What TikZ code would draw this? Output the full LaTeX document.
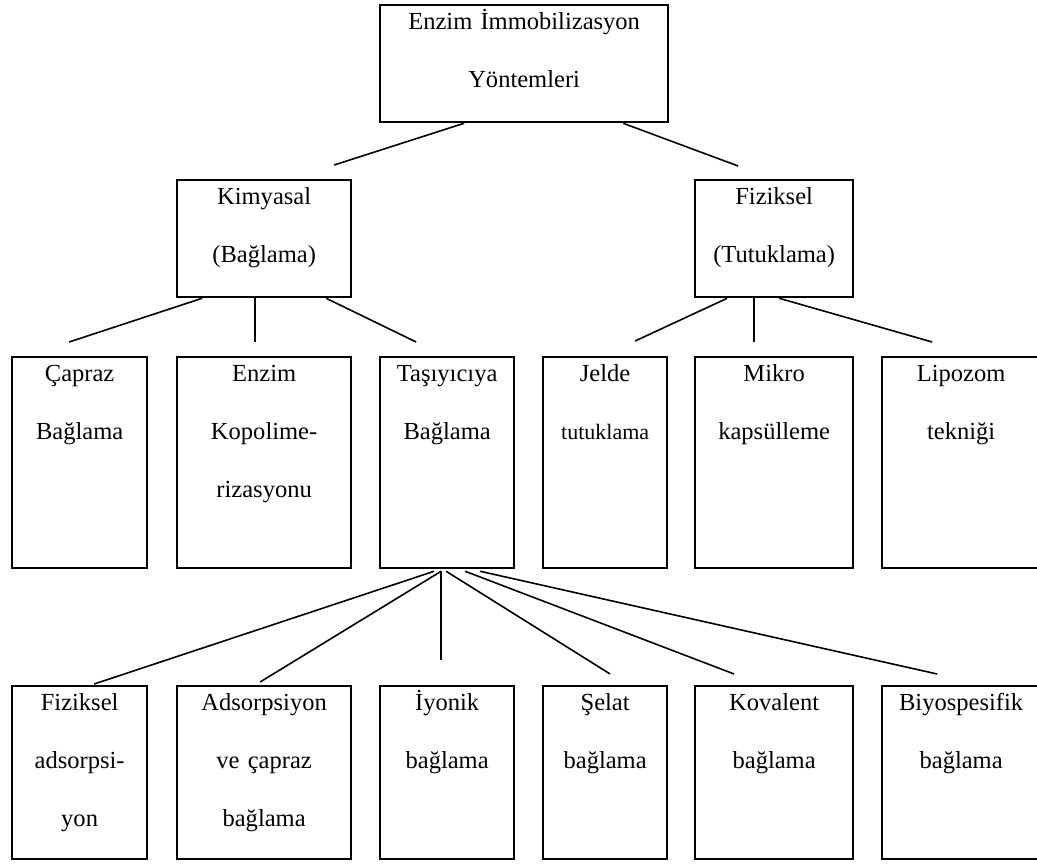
\documentclass[tikz,border=0pt]{standalone}
\usepackage{fontspec}
\setmainfont{Liberation Serif}
\usepackage{tikz}
\usetikzlibrary{calc}
\tikzstyle{boxes} = [rectangle, draw=black, line width=1.7pt, anchor=north west, align=center,
inner sep=0pt, text height=18pt, font=\fontsize{18.4pt}{43.5pt}\selectfont]
\tikzstyle{hboxes} = [boxes, text depth=69.75pt]
\tikzstyle{tboxes} = [boxes, text depth=140.25pt]
\tikzstyle{lboxes} = [boxes, text depth=111.75pt]
\tikzstyle{line} = [line width=1.2pt, -]

\begin{document}
\begin{tikzpicture}[x=0.75pt, y=-0.75pt]
        \useasboundingbox (0,0) rectangle (1037,863);

        \node[hboxes, text width=216pt] (top) at (379,4) {Enzim İmmobilizasyon\\Yöntemleri};
        \node[hboxes, text width=130.5pt] (kim) at (176,179) {Kimyasal\\(Bağlama)};
        \node[hboxes, text width=118.5pt] (fiz) at (694,179) {Fiziksel\\(Tutuklama)};

        \node[tboxes, text width=101.25pt] (capraz) at (11,356) {Çapraz\\Bağlama};
        \node[tboxes, text width=130.5pt] (kopol) at (176,356) {Enzim\\Kopolime-\\rizasyonu};
        \node[tboxes, text width=100.5pt] (tasi) at (379,356) {Taşıyıcıya\\Bağlama};
        \node[tboxes, text width=93pt] (jelde) at (542,356) {Jelde\\{\fontsize{16.5pt}{43.5pt}\selectfont tutuklama}};
        \node[tboxes, text width=118.5pt] (mikro) at (694,356) {Mikro\\kapsülleme};
        \node[tboxes, text width=118.5pt] (lipo) at (881,356) {Lipozom\\tekniği};

        \node[lboxes, text width=101.25pt] (fizads) at (11,685) {Fiziksel\\adsorpsi-\\yon};
        \node[lboxes, text width=130.5pt] (adsve) at (176,685) {Adsorpsiyon\\ve çapraz\\bağlama};
        \node[lboxes, text width=100.5pt] (iyon) at (379,685) {İyonik\\bağlama};
        \node[lboxes, text width=93pt] (selat) at (542,685) {Şelat\\bağlama};
        \node[lboxes, text width=118.5pt] (kova) at (694,685) {Kovalent\\bağlama};
        \node[lboxes, text width=118.5pt] (biyo) at (881,685) {Biyospesifik\\bağlama};

        \draw[line] ($(top.south)+(-60,0)$) -- ($(kim.north)+(70,-14)$);
        \draw[line] ($(top.south)+(99,0)$) -- ($(fiz.north)+(-36,-13)$);

        \draw[line] ($(kim.south)+(-62,0)$) -- ($(capraz.north)+(-10.5,-14)$);
        \draw[line] ($(kim.south)+(-9,0)$) -- ($(kopol.north)+(-9,-14)$);
        \draw[line] ($(kim.south)+(62,0)$) -- ($(tasi.north)+(-31,-14)$);

        \draw[line] ($(fiz.south)+(-47,0)$) -- ($(jelde.north)+(30,-15)$);
        \draw[line] ($(fiz.south)+(-20,0)$) -- ($(mikro.north)+(-20,-14)$);
        \draw[line] ($(fiz.south)+(5,0)$) -- ($(lipo.north)+(-29,-14)$);

        \draw[line] ($(tasi.south)+(-13,2)$) -- ($(fizads.north)+(14.5,-1)$);
        \draw[line] ($(tasi.south)+(-6,2)$) -- ($(adsve.north)+(-4,-3)$);
        \draw[line] ($(tasi.south)+(-6,2)$) -- ($(iyon.north)+(-6,-25)$);
        \draw[line] ($(tasi.south)+(-1,2)$) -- ($(selat.north)+(5,-11)$);
        \draw[line] ($(tasi.south)+(18,2)$) -- ($(kova.north)+(-40,-11)$);
        \draw[line] ($(tasi.south)+(33,2)$) -- ($(biyo.north)+(-24,-11)$);

    \end{tikzpicture}
\end{document}
